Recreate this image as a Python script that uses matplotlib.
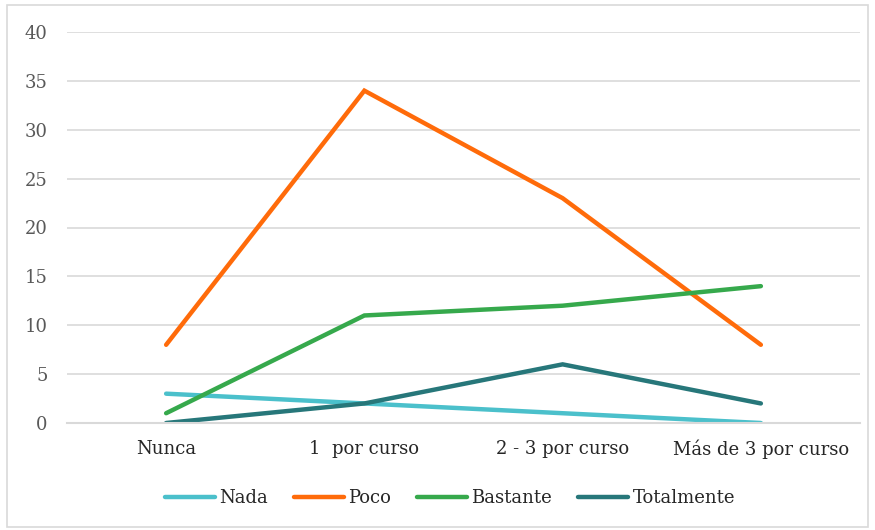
import matplotlib
matplotlib.use("Agg")
import matplotlib.pyplot as plt
from matplotlib.patches import Rectangle

categories = ["Nunca", "1  por curso", "2 - 3 por curso", "Más de 3 por curso"]
series_names = ["Nada", "Poco", "Bastante", "Totalmente"]
nada = [3, 2, 1, 0]
poco = [8, 34, 23, 8]
bastante = [1, 11, 12, 14]
totalmente = [0, 2, 6, 2]
yticks = [0, 5, 10, 15, 20, 25, 30, 35, 40]

colors = ["#4BC0CB", "#FF6B0A", "#36A94C", "#27777A"]
values = [nada, poco, bastante, totalmente]

plt.rcParams['font.family'] = ['DejaVu Serif']

fig = plt.figure(figsize=(8.75, 5.3), dpi=100)
ax = fig.add_axes([67/875, 1 - 423/530, (860-67)/875, (423-32)/530])

x = list(range(len(categories)))
for name, vals, c in zip(series_names, values, colors):
    ax.plot(x, vals, color=c, lw=3.2, label=name, solid_capstyle='round',
            solid_joinstyle='miter')

ax.set_xlim(-0.5, len(categories) - 0.5)
ax.set_ylim(0, 40)
ax.set_yticks(yticks)
ax.set_xticks(x)
ax.set_xticklabels(categories)
ax.grid(axis='y', color='#D9D9D9', lw=1.2)
ax.set_axisbelow(True)
for s in ['top', 'right', 'left']:
    ax.spines[s].set_visible(False)
ax.spines['bottom'].set_color('#D9D9D9')
ax.spines['bottom'].set_linewidth(1.5)
ax.tick_params(axis='y', length=0, pad=14, labelsize=13, labelcolor='#595959')
ax.tick_params(axis='x', length=0, pad=12, labelsize=13, labelcolor='#262626')

leg = ax.legend(loc='center', bbox_to_anchor=((450 - 67) / 793, (423 - 498) / 391),
                ncol=4, frameon=False, fontsize=13, handlelength=2.75,
                handletextpad=0.25, columnspacing=1.45)
for t in leg.get_texts():
    t.set_color('#262626')

fig.patches.append(Rectangle((7/875, 3/530), 861/875, 522/530, transform=fig.transFigure,
                             fill=False, edgecolor='#D9D9D9', lw=1.2))

fig.savefig("out.png", dpi=100)
